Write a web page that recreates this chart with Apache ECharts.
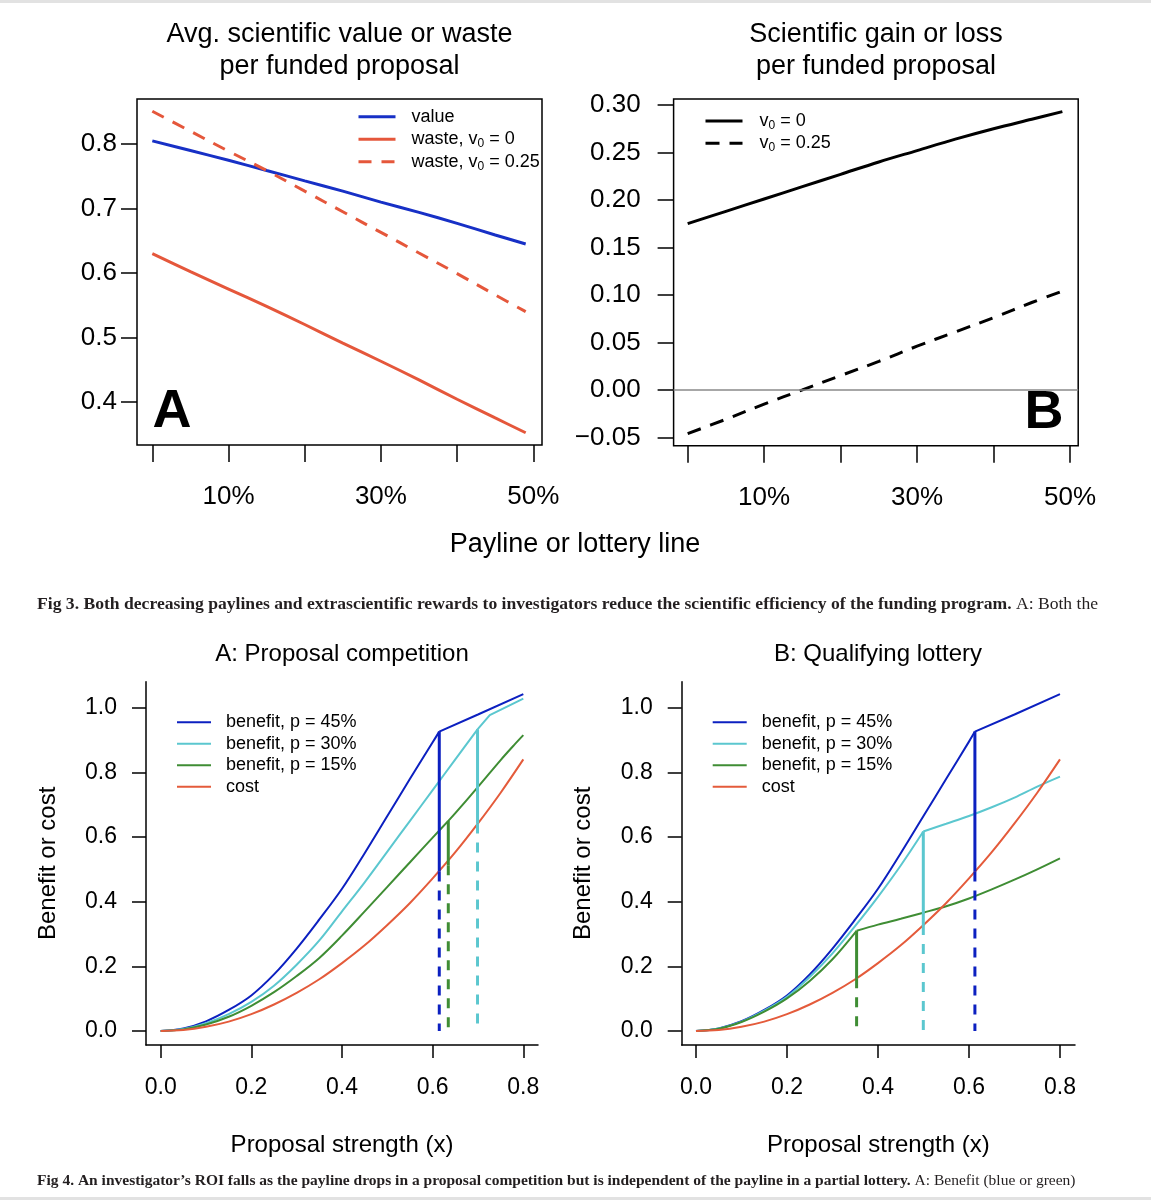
<!DOCTYPE html>
<html><head><meta charset="utf-8">
<script src="https://cdn.jsdelivr.net/npm/echarts@6/dist/echarts.min.js"></script>
<style>html,body{margin:0;padding:0;background:#fff}#c{width:1151px;height:1200px}</style>
</head><body><div id="c"></div><script>
// ---------- Fig 3 data (payline p) ----------
const paylineX   = [0, 0.05, 0.10, 0.15, 0.20, 0.25, 0.30, 0.35, 0.40, 0.45, 0.49];
const avgValue   = [0.805, 0.790, 0.775, 0.759, 0.743, 0.727, 0.710, 0.694, 0.677, 0.659, 0.645];
const wasteV0    = [0.630, 0.602, 0.575, 0.548, 0.520, 0.491, 0.463, 0.434, 0.404, 0.375, 0.352];
const wasteV025  = [0.851, 0.820, 0.789, 0.759, 0.727, 0.695, 0.663, 0.631, 0.599, 0.566, 0.540];
const gainV0     = [0.175, 0.188, 0.201, 0.214, 0.227, 0.240, 0.252, 0.264, 0.275, 0.285, 0.293];
const gainV025   = [-0.046, -0.031, -0.015, 0.000, 0.015, 0.030, 0.046, 0.061, 0.076, 0.092, 0.104];
const paylineTicks  = [0, 0.1, 0.2, 0.3, 0.4, 0.5];
const paylineLabels = [0.1, 0.3, 0.5];
const fig3ATicks = [0.4, 0.5, 0.6, 0.7, 0.8];
const fig3BTicks = [-0.05, 0, 0.05, 0.10, 0.15, 0.20, 0.25, 0.30];

// ---------- Fig 4 data (proposal strength x) ----------
const strengthTicks = [0, 0.2, 0.4, 0.6, 0.8];
const benefitTicks  = [0, 0.2, 0.4, 0.6, 0.8, 1.0];
const costX = [0, 0.05, 0.10, 0.15, 0.20, 0.25, 0.30, 0.35, 0.40, 0.45, 0.50, 0.55, 0.60, 0.65, 0.70, 0.75, 0.80];
const costY = [0, 0.003, 0.013, 0.029, 0.052, 0.082, 0.118, 0.160, 0.210, 0.265, 0.328, 0.396, 0.472, 0.553, 0.642, 0.737, 0.840];

// A: proposal competition (kink = point where the curve changes course)
const compP45X = [0, 0.05, 0.10, 0.15, 0.20, 0.25, 0.30, 0.35, 0.40, 0.45, 0.50, 0.55, 0.60, 0.6146, 0.70, 0.80];
const compP45Y = [0, 0.008, 0.030, 0.065, 0.110, 0.175, 0.255, 0.345, 0.440, 0.550, 0.665, 0.780, 0.893, 0.926, 0.979, 1.042];
const compP45Kink = 0.6146;
const compP30X = [0, 0.05, 0.10, 0.15, 0.20, 0.25, 0.30, 0.35, 0.40, 0.45, 0.50, 0.55, 0.60, 0.65, 0.699, 0.726, 0.80];
const compP30Y = [0, 0.006, 0.024, 0.052, 0.090, 0.140, 0.205, 0.280, 0.370, 0.460, 0.555, 0.650, 0.745, 0.840, 0.933, 0.977, 1.028];
const compP30Kink = 0.699;
const compP15X = [0, 0.05, 0.10, 0.15, 0.20, 0.25, 0.30, 0.35, 0.40, 0.45, 0.50, 0.55, 0.60, 0.6345, 0.65, 0.70, 0.75, 0.78, 0.80];
const compP15Y = [0, 0.005, 0.020, 0.044, 0.078, 0.120, 0.170, 0.226, 0.295, 0.370, 0.446, 0.522, 0.598, 0.650, 0.674, 0.755, 0.838, 0.885, 0.915];
const compCutX    = [0.6146, 0.6345, 0.699];   // p = 45%, 15%, 30%
const compCutTop  = [0.926, 0.650, 0.933];
const compCutCost = [0.493, 0.513, 0.642];

// B: qualifying lottery
const lotP45X = [0, 0.05, 0.10, 0.15, 0.20, 0.25, 0.30, 0.35, 0.40, 0.45, 0.50, 0.55, 0.60, 0.613, 0.70, 0.80];
const lotP45Y = [0, 0.008, 0.030, 0.065, 0.110, 0.175, 0.255, 0.345, 0.440, 0.550, 0.665, 0.780, 0.895, 0.926, 0.979, 1.042];
const lotP45Kink = 0.613;
const lotP30X = [0, 0.05, 0.10, 0.15, 0.20, 0.25, 0.30, 0.35, 0.40, 0.45, 0.4996, 0.55, 0.60, 0.65, 0.70, 0.75, 0.80];
const lotP30Y = [0, 0.008, 0.029, 0.063, 0.106, 0.167, 0.240, 0.325, 0.415, 0.512, 0.617, 0.641, 0.665, 0.692, 0.722, 0.756, 0.787];
const lotP30Kink = 0.4996;
const lotP15X = [0, 0.05, 0.10, 0.15, 0.20, 0.25, 0.30, 0.353, 0.40, 0.45, 0.4996, 0.55, 0.60, 0.65, 0.70, 0.75, 0.80];
const lotP15Y = [0, 0.007, 0.028, 0.060, 0.101, 0.155, 0.222, 0.310, 0.329, 0.347, 0.366, 0.386, 0.410, 0.438, 0.468, 0.500, 0.534];
const lotP15Kink = 0.353;
const lotCutX    = [0.353, 0.4996, 0.613];    // p = 15%, 30%, 45%
const lotCutTop  = [0.310, 0.617, 0.926];
const lotCutCost = [0.163, 0.328, 0.493];

// ---------- styling ----------
const SANS  = '"Liberation Sans", Arial, Helvetica, sans-serif';
const SERIF = '"Liberation Serif", "DejaVu Serif", serif';
const C_BLUE_T = '#1730C6', C_RED_T = '#E5573B';
const C_BLUE = '#0C20C0', C_CYAN = '#5BC7CF', C_GREEN = '#3F8D34', C_RED = '#E45B3B';
const zip = (xs, ys) => xs.map((x, i) => [x, ys[i]]);

function line(name, xi, data, color, width, type, z, smooth) {
  return { type: 'line', name, xAxisIndex: xi, yAxisIndex: xi, data, symbol: 'none', showSymbol: false,
    smooth: smooth || false, silent: true, animation: false, z: z || 2,
    lineStyle: { color, width, type: type || 'solid', cap: 'butt' }, itemStyle: { color } };
}
// a curve drawn as a smooth piece up to its kink and a second piece after it
function kinked(name, xi, xs, ys, kink, color, width, smoothAfter) {
  const pts = zip(xs, ys);
  const k = xs.indexOf(kink);
  return [
    line(name, xi, pts.slice(0, k + 1), color, width, 'solid', 2, 0.35),
    line(name + ' ', xi, pts.slice(k), color, width, 'solid', 2, smoothAfter ? 0.35 : false)
  ];
}

const series = [
  line('value', 0, zip(paylineX, avgValue), C_BLUE_T, 3, 'solid', 2, 0.35),
  line('waste, v0 = 0', 0, zip(paylineX, wasteV0), C_RED_T, 3, 'solid', 2, 0.35),
  line('waste, v0 = 0.25', 0, zip(paylineX, wasteV025), C_RED_T, 3, [13, 10], 2, 0.35),
  line('v0 = 0', 1, zip(paylineX, gainV0), '#000', 3, 'solid', 2, 0.35),
  Object.assign(line('v0 = 0.25', 1, zip(paylineX, gainV025), '#000', 3, [14, 10], 2, 0.35), {
    markLine: { silent: true, symbol: 'none', label: { show: false }, animation: false,
      lineStyle: { color: '#8a8a8a', width: 1.5, type: 'solid' }, data: [{ yAxis: 0 }] }
  }),
  ...kinked('benefit, p = 45%', 2, compP45X, compP45Y, compP45Kink, C_BLUE, 2, false),
  ...kinked('benefit, p = 30%', 2, compP30X, compP30Y, compP30Kink, C_CYAN, 2, false),
  line('benefit, p = 15%', 2, zip(compP15X, compP15Y), C_GREEN, 2, 'solid', 2, 0.35),
  line('cost', 2, zip(costX, costY), C_RED, 2, 'solid', 2, 0.35),
  ...kinked('benefit, p = 45%', 3, lotP45X, lotP45Y, lotP45Kink, C_BLUE, 2, false),
  ...kinked('benefit, p = 30%', 3, lotP30X, lotP30Y, lotP30Kink, C_CYAN, 2, true),
  ...kinked('benefit, p = 15%', 3, lotP15X, lotP15Y, lotP15Kink, C_GREEN, 2, true),
  line('cost', 3, zip(costX, costY), C_RED, 2, 'solid', 2, 0.35)
];
const compColors = [C_BLUE, C_GREEN, C_CYAN];
compCutX.forEach((x, i) => {
  series.push(line('cut-c-s' + i, 2, [[x, compCutTop[i]], [x, compCutCost[i]]], compColors[i], 3, 'solid', 3));
  series.push(line('cut-c-d' + i, 2, [[x, compCutCost[i]], [x, 0]], compColors[i], 3, [10, 9], 3));
});
const lotColors = [C_GREEN, C_CYAN, C_BLUE];
lotCutX.forEach((x, i) => {
  series.push(line('cut-l-s' + i, 3, [[x, lotCutTop[i]], [x, lotCutCost[i]]], lotColors[i], 3, 'solid', 3));
  series.push(line('cut-l-d' + i, 3, [[x, lotCutCost[i]], [x, 0]], lotColors[i], 3, [10, 9], 3));
});

function topX(gi, min, max) {
  return { gridIndex: gi, type: 'value', min, max,
    axisLine: { show: false, onZero: false }, splitLine: { show: false },
    axisTick: { show: true, length: 17, customValues: paylineTicks, lineStyle: { color: '#000', width: 1.5 } },
    axisLabel: { customValues: paylineLabels, formatter: v => Math.round(v * 100) + '%', fontSize: 26, fontFamily: SANS, color: '#000', margin: 39 } };
}
function topY(gi, min, max, ticks, fmt, margin) {
  return { gridIndex: gi, type: 'value', min, max,
    axisLine: { show: false, onZero: false }, splitLine: { show: false },
    axisTick: { show: true, length: 16, customValues: ticks, lineStyle: { color: '#000', width: 1.5 } },
    axisLabel: { customValues: ticks, formatter: fmt, fontSize: 26, fontFamily: SANS, color: '#000', margin } };
}
function botX(gi, min, max) {
  return { gridIndex: gi, type: 'value', min, max,
    axisLine: { show: true, onZero: false, lineStyle: { color: '#000', width: 1.5 } }, splitLine: { show: false },
    axisTick: { show: true, length: 13, customValues: strengthTicks, lineStyle: { color: '#000', width: 1.5 } },
    axisLabel: { customValues: strengthTicks, formatter: v => v.toFixed(1), fontSize: 23, fontFamily: SANS, color: '#000', margin: 31 },
    name: 'Proposal strength (x)', nameLocation: 'middle', nameGap: 88,
    nameTextStyle: { fontSize: 24, fontFamily: SANS, color: '#000' } };
}
function botY(gi) {
  return { gridIndex: gi, type: 'value', min: -0.0433, max: 1.0804,
    axisLine: { show: true, onZero: false, lineStyle: { color: '#000', width: 1.5 } }, splitLine: { show: false },
    axisTick: { show: true, length: 14, customValues: benefitTicks, lineStyle: { color: '#000', width: 1.5 } },
    axisLabel: { customValues: benefitTicks, formatter: v => v.toFixed(1), fontSize: 23, fontFamily: SANS, color: '#000', margin: 29 },
    name: 'Benefit or cost', nameLocation: 'middle', nameRotate: 90, nameGap: 86,
    nameTextStyle: { fontSize: 24, fontFamily: SANS, color: '#000' } };
}

const subFmt = n => n.replace('v0', 'v{s|0}');
function legend(names, left, top, iw, ih, gap, pad, lw, fmt) {
  return { data: names, orient: 'vertical', left, top, itemWidth: iw, itemHeight: ih, itemGap: gap,
    selectedMode: false, formatter: fmt || (n => n),
    itemStyle: { opacity: 0 },
    lineStyle: { width: lw },
    textStyle: { fontSize: 18, fontFamily: SANS, color: '#000', lineHeight: ih, padding: [0, 0, 0, pad],
      rich: { s: { fontSize: 12, fontFamily: SANS, color: '#000', lineHeight: 12, padding: [9, 0, 0, 0] } } } };
}
const fig4Names = ['benefit, p = 45%', 'benefit, p = 30%', 'benefit, p = 15%', 'cost'];

function txt(text, x, y, size, opts) {
  return { type: 'text', x, y, silent: true, style: Object.assign({ text, fontSize: size, fontFamily: SANS, fill: '#000', align: 'center', verticalAlign: 'middle' }, opts || {}) };
}

const option = {
  backgroundColor: '#fff',
  animation: false,
  grid: [
    { left: 137, top: 99, width: 405, height: 346, show: true, borderColor: '#000', borderWidth: 1.5, backgroundColor: 'transparent' },
    { left: 673.6, top: 99, width: 404.6, height: 346.7, show: true, borderColor: '#000', borderWidth: 1.5, backgroundColor: 'transparent' },
    { left: 146, top: 681.7, width: 392, height: 363.3 },
    { left: 681.7, top: 681.7, width: 393.3, height: 363.3 }
  ],
  xAxis: [ topX(0, -0.0201, 0.5114), topX(1, -0.0184, 0.5107), botX(2, -0.0324, 0.8324), botX(3, -0.0314, 0.833) ],
  yAxis: [
    topY(0, 0.333, 0.870, fig3ATicks, v => v.toFixed(1), 20),
    topY(1, -0.0588, 0.3063, fig3BTicks, v => (v < 0 ? '\u2212' : '') + Math.abs(v).toFixed(2), 33),
    botY(2), botY(3)
  ],
  legend: [
    legend(['value', 'waste, v0 = 0', 'waste, v0 = 0.25'], 352, 100.7, 37, 22, 0.5, 11, 3, subFmt),
    legend(['v0 = 0', 'v0 = 0.25'], 699, 105, 37, 22, 0.3, 12, 3, subFmt),
    legend(fig4Names, 171, 707.3, 34, 20, 1.5, 10, 2),
    legend(fig4Names, 706.7, 707.3, 34, 20, 1.5, 10, 2)
  ],
  series,
  graphic: [
    { type: 'rect', shape: { x: 0, y: 0, width: 1151, height: 3 }, style: { fill: '#e2e2e2' }, silent: true },
    { type: 'rect', shape: { x: 0, y: 1197, width: 1151, height: 3 }, style: { fill: '#e2e2e2' }, silent: true },
    txt('Avg. scientific value or waste', 339.5, 35, 27),
    txt('per funded proposal', 339.5, 67, 27),
    txt('Scientific gain or loss', 876, 35, 27),
    txt('per funded proposal', 876, 67, 27),
    txt('Payline or lottery line', 575, 545, 27),
    txt('A', 172, 412, 54, { fontWeight: 'bold' }),
    txt('B', 1044, 413, 54, { fontWeight: 'bold' }),
    txt('A: Proposal competition', 342, 654, 24),
    txt('B: Qualifying lottery', 878, 654, 24),
    { type: 'text', x: 37, y: 604, silent: true, style: {
      text: '{b|Fig 3. Both decreasing paylines and extrascientific rewards to investigators reduce the scientific efficiency of the funding program.}{r| A: Both the}',
      verticalAlign: 'middle', align: 'left',
      rich: { b: { fontSize: 17.6, fontWeight: 'bold', fontFamily: SERIF, fill: '#231f20' }, r: { fontSize: 17.6, fontFamily: SERIF, fill: '#231f20' } } } },
    { type: 'text', x: 37, y: 1181, silent: true, style: {
      text: '{b|Fig 4. An investigator\u2019s ROI falls as the payline drops in a proposal competition but is independent of the payline in a partial lottery.}{r| A: Benefit (blue or green)}',
      verticalAlign: 'middle', align: 'left',
      rich: { b: { fontSize: 15.5, fontWeight: 'bold', fontFamily: SERIF, fill: '#231f20' }, r: { fontSize: 15.5, fontFamily: SERIF, fill: '#231f20' } } } }
  ]
};

const chart = echarts.init(document.getElementById('c'), null, { renderer: 'canvas' });
chart.setOption(option);
</script></body></html>
